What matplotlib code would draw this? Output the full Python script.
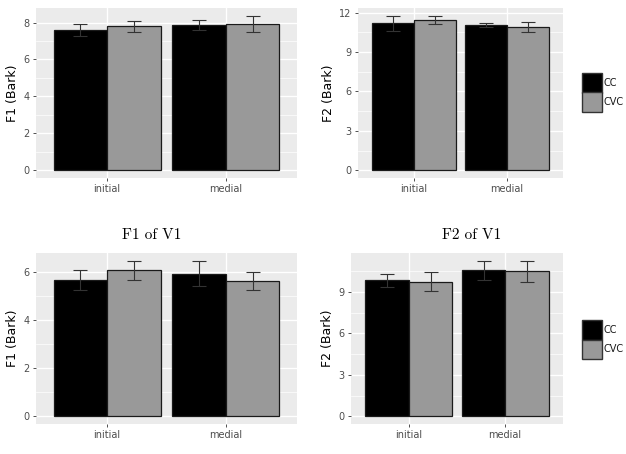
import numpy as np
import matplotlib.pyplot as plt
from matplotlib.patches import Rectangle

# data
positions = ["initial", "medial"]
groups = ["CC", "CVC"]

f1_top_cc = [7.60, 7.88]
f1_top_cc_se = [0.33, 0.27]
f1_top_cvc = [7.79, 7.93]
f1_top_cvc_se = [0.30, 0.44]

f2_top_cc = [11.19, 11.04]
f2_top_cc_se = [0.58, 0.15]
f2_top_cvc = [11.44, 10.90]
f2_top_cvc_se = [0.33, 0.38]

f1_v1_cc = [5.67, 5.93]
f1_v1_cc_se = [0.43, 0.51]
f1_v1_cvc = [6.07, 5.62]
f1_v1_cvc_se = [0.40, 0.38]

f2_v1_cc = [9.84, 10.57]
f2_v1_cc_se = [0.46, 0.70]
f2_v1_cvc = [9.75, 10.50]
f2_v1_cvc_se = [0.70, 0.77]

W, H = 626, 454
fig = plt.figure(figsize=(W / 100, H / 100), dpi=100)
fig.patch.set_facecolor("white")

bar_colors = ["#000000", "#999999"]


def px_axes(x0, y0, x1, y1):
    return fig.add_axes([x0 / W, 1 - y1 / H, (x1 - x0) / W, (y1 - y0) / H])


def panel(ax, cc, cc_se, cvc, cvc_se, ylabel, yticks):
    x = np.arange(1, len(positions) + 1)
    w = 0.45
    for vals, errs, off, col in [(cc, cc_se, -w / 2, bar_colors[0]),
                                 (cvc, cvc_se, w / 2, bar_colors[1])]:
        ax.bar(x + off, vals, width=w, color=col, edgecolor="#1a1a1a",
               linewidth=0.9, zorder=3)
        ax.errorbar(x + off, vals, yerr=errs, fmt="none", ecolor="#333333",
                    elinewidth=0.8, capsize=5, capthick=0.8, zorder=4)
    top = max(np.max(np.add(cc, cc_se)), np.max(np.add(cvc, cvc_se)))
    ax.set_ylim(-0.05 * top, 1.05 * top)
    ax.set_xlim(0.4, 2.6)
    ax.set_facecolor("#EBEBEB")
    ax.set_xticks(x)
    ax.set_xticklabels(positions)
    ax.set_yticks(yticks)
    step = yticks[1] - yticks[0]
    minor = [t + step / 2 for t in yticks[:-1]]
    if top * 1.05 > yticks[-1] + step / 2:
        minor.append(yticks[-1] + step / 2)
    ax.set_yticks(minor, minor=True)
    ax.grid(True, which="major", color="white", linewidth=1.0, zorder=0)
    ax.grid(True, which="minor", axis="y", color="white", linewidth=0.5, zorder=0)
    ax.set_axisbelow(True)
    for s in ax.spines.values():
        s.set_visible(False)
    ax.tick_params(axis="both", which="major", length=2.5, width=0.6,
                   color="#333333", labelcolor="#4D4D4D", labelsize=7, pad=2)
    ax.tick_params(axis="y", which="minor", length=0)
    ax.set_ylabel(ylabel, fontsize=9, labelpad=3)


ax1 = px_axes(36, 8, 297, 178)
panel(ax1, f1_top_cc, f1_top_cc_se, f1_top_cvc, f1_top_cvc_se,
      "F1 (Bark)", [0, 2, 4, 6, 8])
ax2 = px_axes(358, 8, 563, 178)
panel(ax2, f2_top_cc, f2_top_cc_se, f2_top_cvc, f2_top_cvc_se,
      "F2 (Bark)", [0, 3, 6, 9, 12])
ax3 = px_axes(36, 253, 297, 424)
panel(ax3, f1_v1_cc, f1_v1_cc_se, f1_v1_cvc, f1_v1_cvc_se,
      "F1 (Bark)", [0, 2, 4, 6])
ax4 = px_axes(351, 253, 563, 424)
panel(ax4, f2_v1_cc, f2_v1_cc_se, f2_v1_cvc, f2_v1_cvc_se,
      "F2 (Bark)", [0, 3, 6, 9])

# subfigure captions, centred on each half of the page
fig.text(152 / W, 1 - 235 / H, "F1 of V1", family="cmr10", fontsize=11,
         ha="center", va="center")
fig.text(472 / W, 1 - 235 / H, "F2 of V1", family="cmr10", fontsize=11,
         ha="center", va="center")

# legend keys beside the right-hand panels
key_w, key_h = 20.5, 19.5
for ytop in [73, 320]:
    for i, (g, c) in enumerate(zip(groups, bar_colors)):
        y0 = ytop + i * key_h
        fig.add_artist(Rectangle((581.5 / W, 1 - (y0 + key_h) / H),
                                 key_w / W, key_h / H, transform=fig.transFigure,
                                 facecolor=c, edgecolor="#333333", linewidth=1.0))
        fig.text(603.5 / W, 1 - (y0 + key_h / 2) / H, g, fontsize=7,
                 color="#1a1a1a", ha="left", va="center")

fig.savefig("out.png", dpi=100)
